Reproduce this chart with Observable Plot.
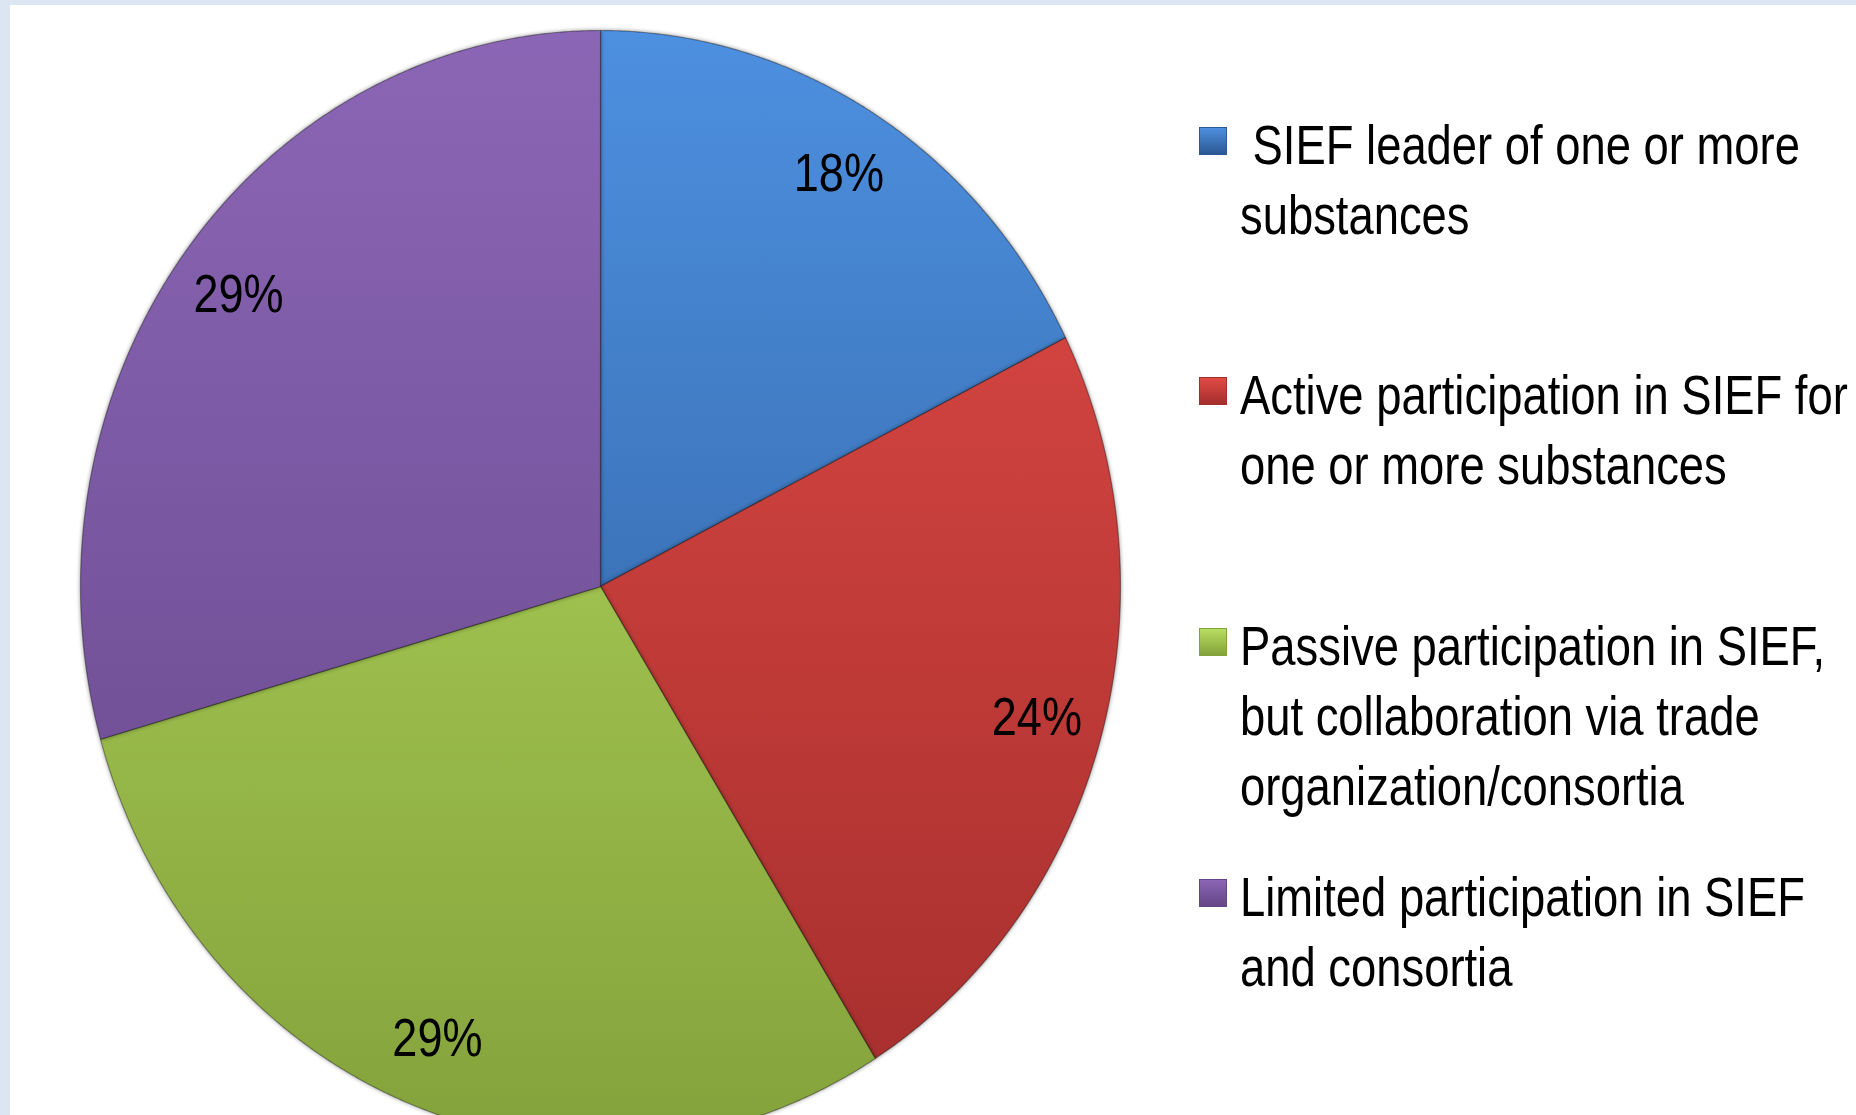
<!DOCTYPE html>
<html><head><meta charset="utf-8">
<script src="https://cdn.jsdelivr.net/npm/d3@7"></script>
<script src="https://cdn.jsdelivr.net/npm/@observablehq/plot@0.6"></script>
<style>
html,body{margin:0;padding:0;background:#dce6f2;width:1856px;height:1115px;overflow:hidden;}
#panel{position:absolute;left:10px;top:5px;width:1846px;height:1110px;background:#fff;overflow:hidden;}
#chart{position:absolute;left:0;top:0;}
.leg{position:absolute;font-family:"Liberation Sans",Arial,sans-serif;font-size:55px;line-height:70px;color:#000;white-space:pre;transform:scaleX(0.825);transform-origin:0 0;}
.sw{position:absolute;width:28px;height:28px;box-sizing:border-box;}
</style></head><body>
<div id="panel"><div id="chart"></div></div>
<script>
const categories = [
  "SIEF leader of one or more substances",
  "Active participation in SIEF for one or more substances",
  "Passive participation in SIEF, but collaboration via trade organization/consortia",
  "Limited participation in SIEF and consortia"
];
// shares (labels shown rounded)
const values = [17.6, 23.5, 29.4, 29.4];
const valueLabels = ["18%", "24%", "29%", "29%"];
const legendLines = [
  " SIEF leader of one or more\nsubstances",
  "Active participation in SIEF for\none or more substances",
  "Passive participation in SIEF,\nbut collaboration via trade\norganization/consortia",
  "Limited participation in SIEF\nand consortia"
];
const colorTop = ["#4d90e0", "#e24b46", "#b8de62", "#8b66b6"];
const colorBottom = ["#2c5893", "#a42e2d", "#84a23b", "#654586"];

const FONT = '"Liberation Sans",Arial,sans-serif';

const arcs = d3.pie().sort(null).startAngle(0).endAngle(2 * Math.PI)(values);
const rows = [];
arcs.forEach((a, i) => {
  rows.push({cat: categories[i], x: 0, y: 0});
  const n = Math.max(2, Math.ceil((a.endAngle - a.startAngle) / 0.005));
  for (let k = 0; k <= n; k++) {
    const t = a.startAngle + (a.endAngle - a.startAngle) * k / n;
    rows.push({cat: categories[i], x: Math.sin(t), y: Math.cos(t)});
  }
  rows.push({cat: categories[i], x: 0, y: 0});
});
const labelRows = arcs.map((a, i) => {
  const m = (a.startAngle + a.endAngle) / 2, r = 0.872;
  return {text: valueLabels[i], x: r * Math.sin(m), y: r * Math.cos(m)};
});

const sliceMarks = categories.map((c, i) =>
  Plot.line(rows.filter(d => d.cat === c), {
    x: "x", y: "y", fill: `url(#grad${i})`, stroke: "rgba(0,0,0,0.35)", strokeWidth: 1.2, curve: "linear"
  })
);

const plot = Plot.plot({
  width: 1846, height: 1110,
  margin: 0,
  style: {background: "transparent", overflow: "hidden"},
  x: {domain: [-1, 1], range: [70, 1110], axis: null},
  y: {domain: [-1, 1], range: [1137, 25], axis: null},
  marks: [
    ...sliceMarks,
    Plot.text(labelRows, {x: "x", y: "y", text: "text", fontSize: 53, fontFamily: FONT, fill: "#000"})
  ]
});
const ys = plot.scale("y");
const y0 = ys.apply(1), y1 = ys.apply(-1);
const ns = "http://www.w3.org/2000/svg";
const defs = document.createElementNS(ns, "defs");
colorTop.forEach((c, i) => {
  const g = document.createElementNS(ns, "linearGradient");
  g.setAttribute("id", `grad${i}`);
  g.setAttribute("gradientUnits", "userSpaceOnUse");
  g.setAttribute("x1", 0); g.setAttribute("x2", 0);
  g.setAttribute("y1", y0); g.setAttribute("y2", y1);
  [[0, c], [1, colorBottom[i]]].forEach(([o, col]) => {
    const s = document.createElementNS(ns, "stop");
    s.setAttribute("offset", o); s.setAttribute("stop-color", col);
    g.appendChild(s);
  });
  defs.appendChild(g);
});
plot.insertBefore(defs, plot.firstChild);
plot.querySelectorAll('g[aria-label="line"]').forEach(g => g.style.filter = "drop-shadow(0 0 2px rgba(0,0,0,0.45))");
// narrow the label glyphs horizontally (condensed look of the original)
plot.querySelectorAll('g[aria-label="text"] text').forEach(t => {
  const tr = t.getAttribute("transform") || "";
  t.setAttribute("transform", tr + " scale(0.85,1)");
});
document.getElementById("chart").appendChild(plot);

// legend
const panel = document.getElementById("panel");
const swatchCenters = [136, 386, 637, 888];
const baselines = [158, 408, 659, 910];
legendLines.forEach((t, i) => {
  const sw = document.createElement("div");
  sw.className = "sw";
  sw.style.left = "1189px";
  sw.style.top = (swatchCenters[i] - 14) + "px";
  sw.style.background = `linear-gradient(${colorTop[i]}, ${colorBottom[i]})`;
  sw.style.border = `1px solid ${colorBottom[i]}`;
  panel.appendChild(sw);
  const d = document.createElement("div");
  d.className = "leg";
  d.style.left = "1230px";
  d.style.top = (baselines[i] - 35 - Math.round(0.33 * 55)) + "px";
  d.textContent = t;
  panel.appendChild(d);
});
</script>
</body></html>
